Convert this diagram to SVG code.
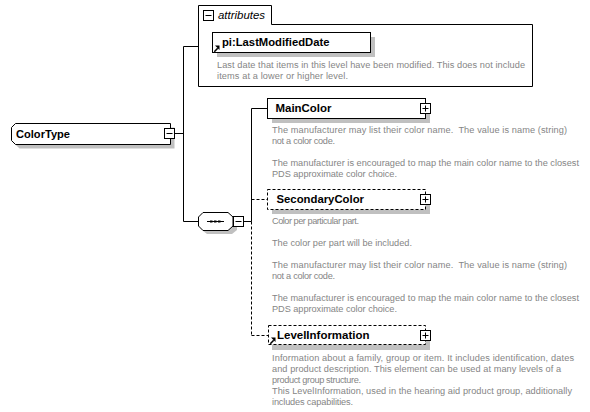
<svg xmlns="http://www.w3.org/2000/svg" width="590" height="412" viewBox="0 0 590 412">
<style>
.bg{fill:#ffffff}
.box{fill:#ffffff;stroke:#000000;stroke-width:1}
.dbox{fill:#ffffff;stroke:#000000;stroke-width:1;stroke-dasharray:3,2}
.shadow{fill:#c0c0c0}
.ln{fill:none;stroke:#000000;stroke-width:1}
.dln{fill:none;stroke:#000000;stroke-width:1;stroke-dasharray:3,2}
.lbl{font-family:"Liberation Sans",Arial,sans-serif;font-weight:bold;font-size:11.2px;fill:#000000}
.ital{font-family:"Liberation Sans",Arial,sans-serif;font-style:italic;font-size:11.3px;fill:#000000}
.desc{font-family:"Liberation Sans",Arial,sans-serif;font-size:9.2px;fill:#858585}
</style>
<defs>
<g id="plus"><rect x="0.5" y="0.5" width="10" height="10" class="box"/><path d="M2.5,5.5H8.5M5.5,2.5V8.5" class="ln"/></g>
<g id="minus"><rect x="0.5" y="0.5" width="10" height="10" class="box"/><path d="M2.5,5.5H8.5" class="ln"/></g>
<g id="link"><path d="M0.8,6.2L4.2,2.8" stroke="#000" stroke-width="1.6" fill="none"/><polygon points="6,0 6,4.5 1.5,0" fill="#000"/></g>
</defs>
<rect x="0" y="0" width="590" height="412" class="bg"/>

<g id="connectors">
<path class="ln" d="M174.5,133.5H183.5M183.5,46.5V221.5M183.5,46.5H198.5M183.5,221.5H198.5"/>
<path class="ln" d="M243.5,221.5H251.5M251.5,108.5V221.5M251.5,108.5H267.5"/>
<path class="dln" d="M251.5,199.5H267.5M251.5,221.5V335.5M251.5,335.5H268.5"/>
</g>

<g id="ColorType">
<polygon class="shadow" points="15.5,131.5 19.5,127.5 174.5,127.5 174.5,148.5 19.5,148.5 15.5,144.5"/>
<polygon class="box" points="11.5,127.5 15.5,123.5 170.5,123.5 170.5,144.5 15.5,144.5 11.5,140.5"/>
<text class="lbl" x="16" y="137.5" textLength="54" lengthAdjust="spacingAndGlyphs">ColorType</text>
<use href="#minus" x="164" y="128"/>
</g>

<g id="attributes">
<path class="box" d="M198.5,86.5V5.5H271.5V24.5H532.5V86.5Z"/>
<use href="#minus" x="203" y="10"/>
<text class="ital" x="218" y="19" textLength="47" lengthAdjust="spacingAndGlyphs">attributes</text>
</g>

<g id="LastModifiedDate">
<rect class="shadow" x="217" y="37" width="158" height="20"/>
<rect class="box" x="212.5" y="32.5" width="158" height="20"/>
<text class="lbl" x="222" y="46" textLength="107.5" lengthAdjust="spacingAndGlyphs">pi:LastModifiedDate</text>
<use href="#link" x="213.5" y="45.5"/>
<text class="desc" x="217" y="67.5" textLength="308">Last date that items in this level have been modified. This does not include</text>
<text class="desc" x="217" y="78.5" textLength="131">items at a lower or higher level.</text>
</g>

<g id="sequence">
<polygon class="shadow" points="207,216 232,216 237,221 237,230 232,234 207,234 202,230 202,221"/>
<polygon class="box" points="203,212.5 228,212.5 233,217 233,226 228,230.5 203,230.5 198.5,226 198.5,217"/>
<path class="ln" d="M207,221.5H224"/>
<rect x="210" y="220.5" width="2.5" height="2" fill="#000"/>
<rect x="214" y="220.5" width="2.5" height="2" fill="#000"/>
<rect x="218" y="220.5" width="2.5" height="2" fill="#000"/>
<use href="#minus" x="233" y="216"/>
</g>

<g id="MainColor">
<rect class="shadow" x="272" y="103" width="158" height="20"/>
<rect class="box" x="267.5" y="98.5" width="158" height="20"/>
<text class="lbl" x="275.5" y="112" textLength="56" lengthAdjust="spacingAndGlyphs">MainColor</text>
<use href="#plus" x="420" y="103"/>
<text class="desc" x="272" y="132.7" textLength="295" xml:space="preserve">The manufacturer may list their color name.  The value is name (string)</text>
<text class="desc" x="272" y="143.7" textLength="63">not a color code.</text>
<text class="desc" x="272" y="165.7" textLength="307">The manufacturer is encouraged to map the main color name to the closest</text>
<text class="desc" x="272" y="176.7" textLength="125">PDS approximate color choice.</text>
</g>

<g id="SecondaryColor">
<rect class="shadow" x="272" y="194" width="158" height="20"/>
<rect class="dbox" x="267.5" y="189.5" width="158" height="20"/>
<text class="lbl" x="276.5" y="203" textLength="87.5" lengthAdjust="spacingAndGlyphs">SecondaryColor</text>
<use href="#plus" x="420" y="194"/>
<text class="desc" x="272" y="223.5" textLength="87">Color per particular part.</text>
<text class="desc" x="272" y="245.5" textLength="140">The color per part will be included.</text>
<text class="desc" x="272" y="267.5" textLength="295" xml:space="preserve">The manufacturer may list their color name.  The value is name (string)</text>
<text class="desc" x="272" y="278.5" textLength="63">not a color code.</text>
<text class="desc" x="272" y="300.5" textLength="307">The manufacturer is encouraged to map the main color name to the closest</text>
<text class="desc" x="272" y="311.5" textLength="125">PDS approximate color choice.</text>
</g>

<g id="LevelInformation">
<rect class="shadow" x="272" y="330" width="158" height="20"/>
<rect class="dbox" x="268.5" y="325.5" width="157" height="19"/>
<text class="lbl" x="277" y="339" textLength="92.5" lengthAdjust="spacingAndGlyphs">LevelInformation</text>
<use href="#link" x="269.5" y="337.5"/>
<use href="#plus" x="420" y="330"/>
<text class="desc" x="272" y="360.5" textLength="302">Information about a family, group or item. It includes identification, dates</text>
<text class="desc" x="272" y="371.5" textLength="289">and product description. This element can be used at many levels of a</text>
<text class="desc" x="272" y="382.5" textLength="89">product group structure.</text>
<text class="desc" x="272" y="393.5" textLength="300">This LevelInformation, used in the hearing aid product group, additionally</text>
<text class="desc" x="272" y="404.5" textLength="81">includes capabilities.</text>
</g>
</svg>
